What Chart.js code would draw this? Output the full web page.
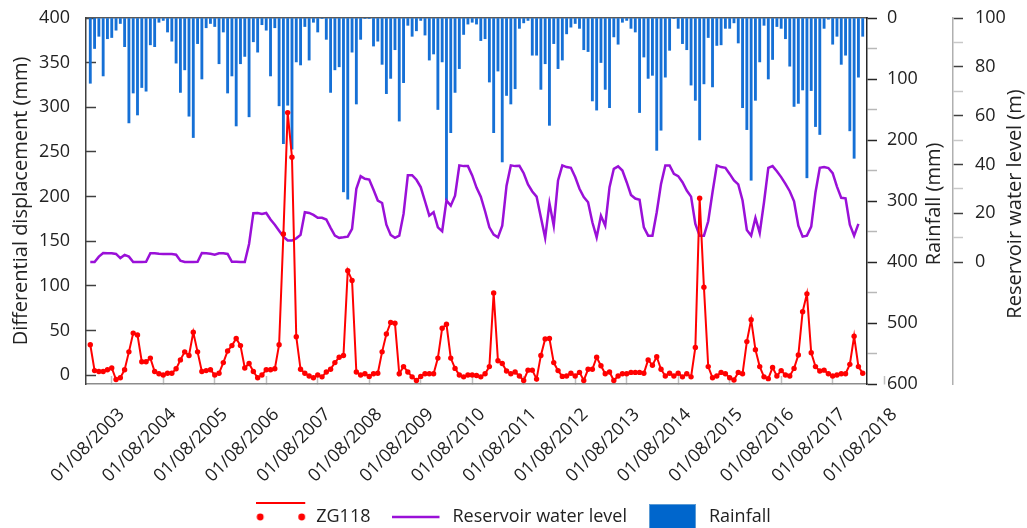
<!DOCTYPE html>
<html>
<head>
<meta charset="utf-8">
<script src="https://cdn.jsdelivr.net/npm/chart.js@4.4.1/dist/chart.umd.min.js"></script>
<style>
  html, body { margin: 0; padding: 0; background: #fff; }
  #chart { display: block; }
</style>
</head>
<body>
<canvas id="chart" width="1027" height="528"></canvas>
<script>
// Monthly samples; month 0 is 01/08/2003, the series start five months earlier.
const firstMonth = -5;

const yearLabels = [
  '01/08/2003', '01/08/2004', '01/08/2005', '01/08/2006', '01/08/2007', '01/08/2008',
  '01/08/2009', '01/08/2010', '01/08/2011', '01/08/2012', '01/08/2013', '01/08/2014',
  '01/08/2015', '01/08/2016', '01/08/2017', '01/08/2018'
];

// ZG118 differential displacement (mm)
const displacement = [
  34, 5, 4, 4, 6, 8, -5, -3, 6, 26,
  47, 45, 15, 15, 19, 4, 1.5, 0, 2, 2,
  7, 17, 26, 22, 48, 26, 4, 5, 6, 0,
  2, 14, 27, 33, 41, 33, 8, 13, 4, -3,
  0, 6, 6, 7, 34, 158, 294, 244, 43, 6.5,
  2, -1, -3, 0, -2, 3.5, 6.5, 14, 20, 22,
  117, 106, 3.5, 0, 1.5, -1.5, 1.5, 2, 26, 46,
  59, 58, 1.5, 9.5, 3.5, -2, -6, -1.5, 1.5, 1.5,
  1.5, 19, 52.5, 57, 19, 7.5, 0, -2, 0, 0,
  -0.5, -2, 1.5, 9.5, 92, 16, 13, 4.5, 1.5, 3.5,
  -1, -6, 5.5, 5.5, -4.5, 22, 40.5, 41, 14, 5,
  -1.5, -1, 2, -1, 3, -6, 6.5, 6.5, 20, 10.5,
  1.5, 3.5, -6, -1, 1.5, 1.5, 3, 3, 3, 2,
  17, 11, 20.5, 6.5, -1, 2, -1, 2, -2, 1.5,
  -2, 31, 198, 98.5, 9.5, -3, -1, 3, 1.5, -3,
  -5.5, 3, 1.5, 37.5, 62, 28.5, 9.5, -2, -4, 8.5,
  -1, 5, 0, -1, 7.5, 22.5, 71, 91, 25, 9.5,
  4.5, 5.5, 1.5, -1, 0, 1.5, 1.5, 12, 43.5, 9.5, 2
];

// Reservoir water level (m, relative axis)
const waterLevel = [
  0, 0, 2.2, 3.7, 3.6, 3.6, 3.3, 1.6, 2.9, 2.2,
  0, 0, 0, 0.1, 3.6, 3.6, 3.4, 3.3, 3.3, 3.3,
  3, 0.5, 0, 0, 0, 0.1, 3.7, 3.6, 3.4, 3,
  3.6, 3.6, 3.3, 0.1, 0.1, 0, 0, 7.4, 20, 20.1,
  19.7, 20.1, 17.4, 15.3, 12.8, 10.4, 8.8, 8.8, 9.7, 11.1,
  20.4, 20.1, 19.3, 18.1, 18.1, 17.4, 14, 10.8, 9.9, 10.1,
  10.4, 13.6, 30, 35.2, 34.1, 33.8, 29.6, 25.2, 24.2, 15.3,
  11.1, 9.9, 10.8, 19.7, 35.6, 35.6, 33.7, 30.7, 24.9, 19,
  20.4, 14.2, 12.6, 25.2, 23.1, 27.2, 39.6, 39.3, 39.3, 35.5,
  30.5, 26.8, 20.8, 14.2, 11.2, 10.1, 14.9, 31.3, 39.6, 39.3,
  39.4, 36.4, 31.8, 28.9, 26.8, 18.3, 9.9, 24.1, 14.9, 33.4,
  39.6, 38.9, 38.6, 34.8, 30, 26.6, 24.5, 16.3, 10.1, 19,
  14.9, 30.7, 38.2, 39.2, 37.5, 32.7, 27.5, 26, 25.5, 14.2,
  10.8, 10.8, 20.4, 32, 39.6, 39.6, 36.1, 35.2, 32.7, 29.3,
  26.8, 15.6, 10.8, 10.8, 16.7, 28.6, 39.6, 38.9, 38.6, 36.1,
  33.4, 31.8, 25.2, 13.1, 10.8, 18.1, 11.9, 24.5, 38.6, 39.3,
  37.2, 34.8, 32, 29, 24.9, 14.9, 10.4, 10.8, 14.5, 28.6,
  38.6, 38.9, 38.5, 36.4, 30.9, 26.3, 26.1, 15.3, 10.8, 15.6
];

// Monthly rainfall (mm)
const rainfall = [
  107, 50, 30, 95, 34, 32, 20, 9, 47, 172,
  123, 159, 114, 120, 44, 47, 7, 4, 23, 38,
  74, 122, 85, 161, 196, 42, 100, 16, 9, 14,
  75, 23, 123, 95, 177, 75, 63, 162, 39, 56,
  11, 20, 95, 16, 144, 206, 143, 215, 72, 77,
  14, 69, 7, 23, 1, 35, 122, 85, 80, 285,
  297, 56, 141, 35, 1, 1, 46, 38, 76, 124,
  99, 52, 169, 106, 12, 30, 21, 4, 28, 69,
  59, 150, 72, 298, 188, 122, 83, 27, 10, 7,
  10, 37, 34, 105, 188, 87, 236, 127, 141, 116,
  17, 8, 4, 61, 61, 117, 75, 176, 42, 83,
  69, 26, 15, 9, 17, 52, 55, 136, 151, 73,
  117, 147, 31, 43, 7, 4, 17, 23, 155, 64,
  99, 94, 217, 184, 97, 53, 1, 17, 42, 52,
  110, 135, 200, 108, 32, 113, 45, 44, 17, 17,
  8, 41, 147, 183, 266, 135, 72, 12, 100, 68,
  14, 17, 34, 79, 145, 140, 118, 262, 119, 178,
  191, 17, 2, 43, 30, 76, 61, 185, 230, 97, 30
];

const RED = '#ff0000';
const PURPLE = '#9a10d8';
const BLUE = '#1570d6';
const TEXT = '#222222';

function toPoints(values) {
  return values.map((v, i) => ({ x: firstMonth + i, y: v }));
}

function steps(from, to, by) {
  const out = [];
  for (let v = from; v <= to; v += by) out.push({ value: v });
  return out;
}

// fixed box size for a scale; the label overhang padding is not needed here
function fixSize(prop, size) {
  return s => {
    s[prop] = size;
    s.paddingTop = s.paddingBottom = s.paddingLeft = s.paddingRight = 0;
  };
}

// small canvases used as legend symbols
function symbol(w, h, paint) {
  const c = document.createElement('canvas');
  c.width = w;
  c.height = h;
  paint(c.getContext('2d'));
  return c;
}

const zgSymbol = symbol(51, 32, g => {
  g.strokeStyle = RED;
  g.lineWidth = 2;
  g.beginPath(); g.moveTo(0, 2); g.lineTo(49, 2); g.stroke();
  g.fillStyle = RED;
  [4, 45.5].forEach(cx => { g.beginPath(); g.arc(cx, 16, 3.4, 0, Math.PI * 2); g.fill(); });
});

const levelSymbol = symbol(51, 6, g => {
  g.strokeStyle = PURPLE;
  g.lineWidth = 2.5;
  g.beginPath(); g.moveTo(0, 3); g.lineTo(47, 3); g.stroke();
});

const rainSymbol = symbol(51, 26, g => {
  g.fillStyle = '#0066cc';
  g.fillRect(0, 0, 47, 26);
  g.strokeStyle = '#5b9bd5';
  g.lineWidth = 1;
  g.strokeRect(0.5, 0.5, 46, 26);
});

// right-hand axis titles read bottom to top
const sideTitles = {
  id: 'sideTitles',
  afterDraw(chart) {
    const { ctx, chartArea } = chart;
    const mid = (chartArea.top + chartArea.bottom) / 2 + 3;
    [['yRain', 'Rainfall (mm)', 67], ['yLevel', 'Reservoir water level (m)', 62]].forEach(([id, text, dx]) => {
      const s = chart.scales[id];
      ctx.save();
      ctx.translate(s.left + dx, mid);
      ctx.rotate(-Math.PI / 2);
      ctx.font = '20px "Open Sans"';
      ctx.fillStyle = TEXT;
      ctx.textAlign = 'center';
      ctx.textBaseline = 'middle';
      ctx.fillText(text, 0, 0);
      ctx.restore();
    });
  }
};

Chart.defaults.font.family = '"Open Sans", sans-serif';
Chart.defaults.font.size = 18;
Chart.defaults.color = TEXT;

new Chart(document.getElementById('chart'), {
  data: {
    datasets: [
      {
        type: 'line',
        label: 'ZG118',
        data: toPoints(displacement),
        xAxisID: 'x',
        yAxisID: 'yDisp',
        borderColor: RED,
        backgroundColor: RED,
        borderWidth: 2,
        pointRadius: 2.7,
        pointBorderWidth: 0,
        pointBackgroundColor: RED,
        tension: 0
      },
      {
        type: 'line',
        label: 'Reservoir water level',
        data: toPoints(waterLevel),
        xAxisID: 'x',
        yAxisID: 'yLevel',
        borderColor: PURPLE,
        borderWidth: 2.5,
        pointRadius: 0,
        tension: 0
      },
      {
        type: 'bar',
        label: 'Rainfall',
        data: toPoints(rainfall),
        xAxisID: 'x',
        yAxisID: 'yRain',
        backgroundColor: BLUE,
        barThickness: 2.2
      }
    ]
  },
  options: {
    responsive: false,
    animation: false,
    devicePixelRatio: 1,
    layout: { padding: { top: 18, right: 0, bottom: -8, left: 0 } },
    plugins: {
      tooltip: { enabled: false },
      legend: {
        position: 'bottom',
        onClick: null,
        labels: {
          usePointStyle: true,
          pointStyleWidth: 51,
          padding: 22,
          font: { size: 18 },
          color: TEXT,
          generateLabels: () => [
            { text: 'ZG118', pointStyle: zgSymbol, datasetIndex: 0, fontColor: TEXT, lineWidth: 0 },
            { text: 'Reservoir water level', pointStyle: levelSymbol, datasetIndex: 1, fontColor: TEXT, lineWidth: 0 },
            { text: 'Rainfall', pointStyle: rainSymbol, datasetIndex: 2, fontColor: TEXT, lineWidth: 0 }
          ]
        }
      }
    },
    scales: {
      x: {
        type: 'linear',
        position: 'bottom',
        offset: false,
        min: -6,
        max: 176,
        afterBuildTicks: s => { s.ticks = yearLabels.map((_, i) => ({ value: i * 12 })); },
        afterFit: fixSize('height', 102),
        ticks: {
          autoSkip: false,
          minRotation: 45,
          maxRotation: 45,
          padding: 28,
          labelOffset: 10,
          callback: v => yearLabels[Math.round(v / 12)]
        },
        grid: { offset: false, drawOnChartArea: false, tickLength: -8, tickColor: '#bfbfbf', tickWidth: 1.5 },
        border: { color: '#8c8c8c', width: 1.5 }
      },
      xTop: {
        type: 'linear',
        position: 'top',
        offset: false,
        min: -6,
        max: 176,
        afterFit: fixSize('height', 0),
        ticks: { display: false },
        grid: { offset: false, drawOnChartArea: false, drawTicks: false },
        border: { color: '#595959', width: 1.5 }
      },
      yDisp: {
        type: 'linear',
        position: 'left',
        min: -10,
        max: 400,
        afterBuildTicks: s => { s.ticks = steps(0, 400, 50); },
        afterFit: fixSize('width', 86),
        ticks: { padding: 26 },
        grid: { drawOnChartArea: false, tickLength: -10, tickColor: '#404040', tickWidth: 1.5 },
        border: { color: '#404040', width: 1.5 },
        title: {
          display: true,
          text: 'Differential displacement (mm)',
          font: { size: 20 },
          padding: { top: 9, bottom: 0 }
        }
      },
      yRain: {
        type: 'linear',
        position: 'right',
        weight: 0,
        reverse: true,
        min: 0,
        max: 600,
        afterBuildTicks: s => { s.ticks = steps(0, 600, 50); },
        afterFit: fixSize('width', 86),
        ticks: { padding: 10, callback: v => (v % 100 === 0 ? v : '') },
        grid: {
          drawOnChartArea: false,
          tickLength: 10,
          tickWidth: 1.5,
          tickColor: c => (c.tick && c.tick.value % 100 === 0 ? '#262626' : '#b8b8b8')
        },
        border: { color: '#262626', width: 1.5 }
      },
      yLevel: {
        type: 'linear',
        position: 'right',
        weight: 1,
        min: -50,
        max: 100,
        afterBuildTicks: s => { s.ticks = steps(0, 100, 10); },
        afterFit: fixSize('width', 74),
        ticks: { padding: 12, callback: v => (v % 20 === 0 ? v : '') },
        grid: {
          drawOnChartArea: false,
          tickLength: 10,
          tickWidth: 1.5,
          tickColor: c => (c.tick && c.tick.value % 20 === 0 ? '#404040' : '#c8c8c8')
        },
        border: { color: '#b0b0b0', width: 1.5 }
      }
    }
  },
  plugins: [sideTitles]
});
</script>
</body>
</html>
